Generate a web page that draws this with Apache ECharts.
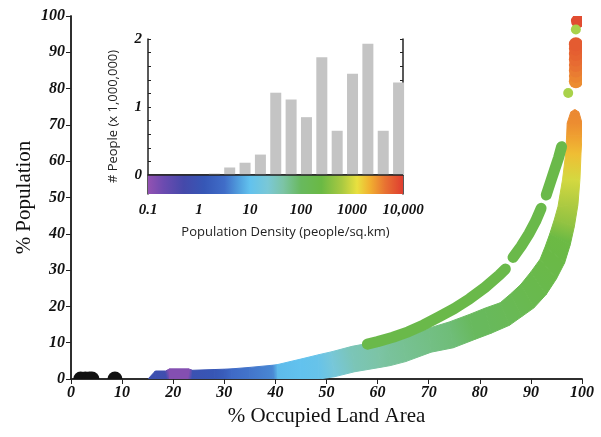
<!DOCTYPE html>
<html lang="en">
<head>
<meta charset="utf-8" />
<title>% Population vs % Occupied Land Area</title>
<script src="https://cdn.jsdelivr.net/npm/echarts@6/dist/echarts.min.js"></script>
<style>
  html, body { margin: 0; padding: 0; background: #fff; }
  #chart { width: 601px; height: 437px; }
</style>
</head>
<body>
<div id="chart"></div>
<script>
// ---- inset histogram (people per density bin, millions) ----
var densityBins = [2, 4, 8, 16, 32, 64, 128, 256, 512, 1024, 2048, 4096, 8192];
var peopleMillions = [0.02, 0.11, 0.18, 0.30, 1.21, 1.11, 0.85, 1.73, 0.65, 1.49, 1.93, 0.65, 1.36];
var densityTicks = [0.1, 1, 10, 100, 1000, 10000];
var densityTickLabels = ['0.1', '1', '10', '100', '1000', '10,000'];
var peopleTicks = [0, 1, 2];
var peopleMinorTicks = [0, 0.2, 0.4, 0.6, 0.8, 1, 1.2, 1.4, 1.6, 1.8, 2];
var colorbarSpan = [0.1, 10000];
var colorbarDepth = [0, -0.28];
var colorbarStops = [
  [0, '#9352b2'], [0.06, '#6c4bb0'], [0.14, '#4549aa'], [0.22, '#3657b6'],
  [0.3, '#406dc8'], [0.36, '#52a2df'], [0.4, '#62c2ee'], [0.47, '#7ac8d6'],
  [0.53, '#7cc4a6'], [0.6, '#68b95e'], [0.68, '#6ab944'], [0.76, '#a9c941'],
  [0.82, '#e9e03f'], [0.87, '#f1b030'], [0.93, '#e87232'], [1, '#df3d30']
];

// ---- main curve: cross-sections of the dense band (upper/left edge, lower/right edge, density) ----
var bandTop = [[15.2, 0.2], [16.5, 2.2], [18.5, 2.2], [19.3, 2.8], [23, 2.8], [23.8, 2.4], [28, 2.6], [30, 2.7],
  [31.5, 2.8], [35, 3.2], [39.5, 3.8], [40.5, 4], [45, 5.5], [48.5, 6.7], [51, 7.5], [55, 9], [60, 10.3],
  [62, 9.8], [65, 11], [70, 14], [74, 15.7], [78, 17.8], [81, 19.5], [84, 21], [86, 23.4], [88, 26],
  [90, 29.5], [91.8, 33], [92.8, 36.5], [93.7, 40], [94.6, 44], [95.3, 47.5], [96.2, 55], [96.8, 62],
  [97, 67], [97.1, 70.5], [97.8, 73.5], [98.5, 74.2]];
var bandBottom = [[15.2, 0], [16.5, 0], [18.5, 0], [19.3, 0], [23, 0], [23.8, 0], [28, 0], [30, 0],
  [31.5, 0], [35, 0], [39.5, 0], [40.5, 0], [45, 0], [48.5, 0], [51.5, 0.6], [55.5, 2], [60.5, 3.2],
  [62.5, 3.7], [65.5, 4.8], [70.5, 7.4], [74.8, 8.6], [79, 10.9], [82.2, 12.6], [85.8, 14.8], [88.2, 17.2],
  [90.6, 19.6], [93, 23.3], [95, 27.6], [96.6, 32], [97.7, 37], [98.5, 42], [99.2, 48], [99.6, 55],
  [99.8, 62], [100, 67], [100, 70.5], [99.4, 73.5], [98.7, 74.2]];
var bandDensity = [0.8, 0.8, 0.7, 0.13, 0.13, 0.9, 1.2, 1.6, 2.8, 3.5, 4.5, 9, 10, 12, 20, 35, 45,
  50, 55, 65, 75, 100, 110, 130, 150, 170, 190, 210, 230, 260, 450, 650, 1000, 1900, 2700, 3300, 3500, 3500];

// separate, thinner branch above the band (three runs with small breaks)
var upperBranchRun1 = [[58, 9.6], [60, 10.3], [63, 11.5], [66, 13], [69, 14.9], [72, 17.1], [75, 19.4],
  [78, 22.1], [81, 25.2], [83.8, 28.6], [85, 30.3]];
var upperBranchRun2 = [[86.5, 33.5], [88.1, 36.6], [89.6, 40], [90.9, 43.4], [92, 47]];
var upperBranchRun3 = [[93, 50.7], [93.8, 54.1], [94.6, 57.5], [95.4, 60.9], [96, 64]];
var upperBranchDensity = 200;

// highest-density column near 100 % land
var topColumnPts = [[98.8, 82], [98.8, 83.5], [98.8, 85], [98.8, 86.5], [98.8, 88], [98.8, 89.5], [98.8, 91], [98.8, 92.2], [99.2, 98.6]];
var topColumnDensity = [3300, 3600, 4000, 4500, 5000, 5500, 6000, 6300, 8000];
var paleGreenPts = [[97.3, 78.8], [98.8, 96.3]];
// uninhabited land (density below 0.1), sitting on the axis
var blackPts = [[1.9, 0], [2.8, 0], [3.6, 0], [4.1, 0], [8.6, 0]];

var serif = 'Liberation Serif';
var sans = 'Open Sans';
var tickFont = { fontFamily: serif, fontStyle: 'italic', fontWeight: 'bold', fontSize: 16, color: '#111' };
var insetTickFont = { fontFamily: serif, fontStyle: 'italic', fontWeight: 'bold', fontSize: 15, color: '#111' };
var darkLine = { lineStyle: { color: '#222', width: 1.5 } };

function densityColor(d) {
  var t = (Math.log10(d) - Math.log10(colorbarSpan[0])) / (Math.log10(colorbarSpan[1]) - Math.log10(colorbarSpan[0]));
  t = Math.max(0, Math.min(1, t));
  for (var i = 1; i < colorbarStops.length; i++) {
    if (t <= colorbarStops[i][0]) {
      var a = colorbarStops[i - 1], b = colorbarStops[i];
      return echarts.color.lerp((t - a[0]) / (b[0] - a[0]), [a[1], b[1]]);
    }
  }
  return colorbarStops[colorbarStops.length - 1][1];
}

// round dots; anything sitting on the bottom axis only shows its upper half
function dots(data, colors, r) {
  return {
    type: 'custom', xAxisIndex: 0, yAxisIndex: 0, clip: true, silent: true,
    data: data, encode: { x: 0, y: 1 },
    renderItem: function (params, api) {
      var p = api.coord([api.value(0), api.value(1)]);
      var c = typeof colors === 'string' ? colors : colors[params.dataIndex];
      var bottom = params.coordSys.y + params.coordSys.height;
      if (Math.abs(p[1] - bottom) < 0.5) {
        return {
          type: 'sector',
          shape: { cx: p[0], cy: p[1], r0: 0, r: r, startAngle: Math.PI, endAngle: 2 * Math.PI, clockwise: true },
          style: { fill: c }
        };
      }
      return { type: 'circle', shape: { cx: p[0], cy: p[1], r: r }, style: { fill: c } };
    }
  };
}

function run(data) {
  return {
    type: 'line', xAxisIndex: 0, yAxisIndex: 0, silent: true, data: data,
    showSymbol: false, smooth: false,
    lineStyle: { width: 11, color: densityColor(upperBranchDensity), cap: 'round', join: 'round' }
  };
}

var bandData = bandTop.map(function (t, i) { return [t[0], t[1], bandBottom[i][0], bandBottom[i][1]]; });

var chart = echarts.init(document.getElementById('chart'));

chart.setOption({
  animation: false,
  backgroundColor: '#fff',
  grid: [
    { left: 71, right: 19, top: 16, bottom: 58 },
    { left: 148, right: 198, top: 39, bottom: 243 }
  ],
  xAxis: [
    {
      gridIndex: 0, type: 'value', min: 0, max: 100, interval: 10,
      name: '% Occupied Land Area', nameLocation: 'middle', nameGap: 24,
      nameTextStyle: { fontFamily: serif, fontSize: 21, color: '#111' },
      axisLine: darkLine, axisTick: { length: 5, lineStyle: { color: '#222' } },
      axisLabel: Object.assign({ margin: 6 }, tickFont), splitLine: { show: false }
    },
    {
      gridIndex: 0, type: 'value', position: 'top', min: 0, max: 100, interval: 10,
      axisLine: darkLine, axisTick: { inside: true, length: 5, lineStyle: { color: '#222' } },
      axisLabel: { show: false }, splitLine: { show: false }
    },
    {
      gridIndex: 1, type: 'log', logBase: 10, min: 0.1, max: 10000,
      name: 'Population Density (people/sq.km)', nameLocation: 'middle', nameGap: 32,
      nameMoveOverlap: false,
      nameTextStyle: { fontFamily: sans, fontSize: 13, color: '#222', padding: [0, 0, 0, 20] },
      axisLine: { show: false }, axisTick: { show: false }, splitLine: { show: false },
      axisLabel: Object.assign({
        margin: 9,
        customValues: densityTicks,
        formatter: function (v) {
          var best = 0;
          densityTicks.forEach(function (t, i) {
            if (Math.abs(Math.log10(t) - Math.log10(v)) < Math.abs(Math.log10(densityTicks[best]) - Math.log10(v))) best = i;
          });
          return densityTickLabels[best];
        }
      }, insetTickFont)
    },
    {
      gridIndex: 1, type: 'log', logBase: 10, min: 0.1, max: 10000, position: 'top',
      axisLine: darkLine, axisTick: { show: false }, axisLabel: { show: false }, splitLine: { show: false }
    }
  ],
  yAxis: [
    {
      gridIndex: 0, type: 'value', min: 0, max: 100, interval: 10,
      name: '% Population', nameLocation: 'middle', nameGap: 36, nameMoveOverlap: false,
      nameTextStyle: { fontFamily: serif, fontSize: 21, color: '#111' },
      axisLine: darkLine, axisTick: { length: 5, lineStyle: { color: '#222' } },
      axisLabel: Object.assign({ margin: 6 }, tickFont), splitLine: { show: false }
    },
    {
      gridIndex: 0, type: 'value', position: 'right', min: 0, max: 100, interval: 10,
      axisLine: darkLine, axisTick: { inside: true, length: 5, lineStyle: { color: '#222' } },
      axisLabel: { show: false }, splitLine: { show: false }
    },
    {
      gridIndex: 1, type: 'value', min: colorbarDepth[1], max: 2,
      name: '# People (x 1,000,000)', nameLocation: 'middle', nameGap: 28, nameMoveOverlap: false,
      nameTextStyle: { fontFamily: sans, fontSize: 13, color: '#222' },
      axisLine: darkLine,
      axisTick: { inside: true, length: 3, customValues: peopleMinorTicks, lineStyle: { color: '#222' } },
      axisLabel: Object.assign({ margin: 6, customValues: peopleTicks }, insetTickFont),
      splitLine: { show: false }
    },
    {
      gridIndex: 1, type: 'value', position: 'right', min: colorbarDepth[1], max: 2,
      axisLine: darkLine,
      axisTick: { inside: true, length: 3, customValues: peopleMinorTicks, lineStyle: { color: '#222' } },
      axisLabel: { show: false }, splitLine: { show: false }
    }
  ],
  series: [
    dots(blackPts, '#111111', 7.5),
    {
      // the dense band: one quad per pair of neighbouring cross-sections, coloured by density
      type: 'custom', xAxisIndex: 0, yAxisIndex: 0, clip: true, silent: true,
      data: bandData, encode: { x: [0, 2], y: [1, 3] },
      renderItem: function (params, api) {
        var i = params.dataIndex;
        if (i >= bandData.length - 1) return null;
        var n = bandData[i + 1];
        var t0 = api.coord([api.value(0), api.value(1)]);
        var b0 = api.coord([api.value(2), api.value(3)]);
        var t1 = api.coord([n[0], n[1]]);
        var b1 = api.coord([n[2], n[3]]);
        var m0 = [(t0[0] + b0[0]) / 2, (t0[1] + b0[1]) / 2];
        var m1 = [(t1[0] + b1[0]) / 2, (t1[1] + b1[1]) / 2];
        var grad = new echarts.graphic.LinearGradient(m0[0], m0[1], m1[0], m1[1], [
          { offset: 0, color: densityColor(bandDensity[i]) },
          { offset: 1, color: densityColor(bandDensity[i + 1]) }
        ], true);
        return {
          type: 'polygon',
          shape: { points: [t0, t1, b1, b0] },
          style: { fill: grad, stroke: grad, lineWidth: 1 }
        };
      }
    },
    run(upperBranchRun1),
    run(upperBranchRun2),
    run(upperBranchRun3),
    dots(topColumnPts, topColumnDensity.map(densityColor), 7),
    dots(paleGreenPts, '#a9d24a', 5),
    {
      type: 'custom', xAxisIndex: 2, yAxisIndex: 2, silent: true,
      data: [[colorbarSpan[0], colorbarSpan[1], colorbarDepth[0], colorbarDepth[1]]],
      encode: { x: [0, 1], y: [2, 3] },
      renderItem: function (params, api) {
        var p0 = api.coord([api.value(0), api.value(2)]);
        var p1 = api.coord([api.value(1), api.value(3)]);
        return {
          type: 'rect',
          shape: { x: p0[0], y: p0[1], width: p1[0] - p0[0], height: p1[1] - p0[1] },
          style: {
            fill: new echarts.graphic.LinearGradient(0, 0, 1, 0, colorbarStops.map(function (s) {
              return { offset: s[0], color: s[1] };
            }))
          }
        };
      }
    },
    {
      type: 'bar', xAxisIndex: 2, yAxisIndex: 2, silent: true,
      data: densityBins.map(function (d, i) { return [d, peopleMillions[i]]; }),
      barWidth: 11,
      itemStyle: { color: '#c4c4c4' },
      markLine: {
        silent: true, symbol: 'none', label: { show: false },
        lineStyle: { color: '#222', width: 1.5, type: 'solid' },
        data: [{ yAxis: 0 }]
      }
    }
  ]
});
</script>
</body>
</html>
